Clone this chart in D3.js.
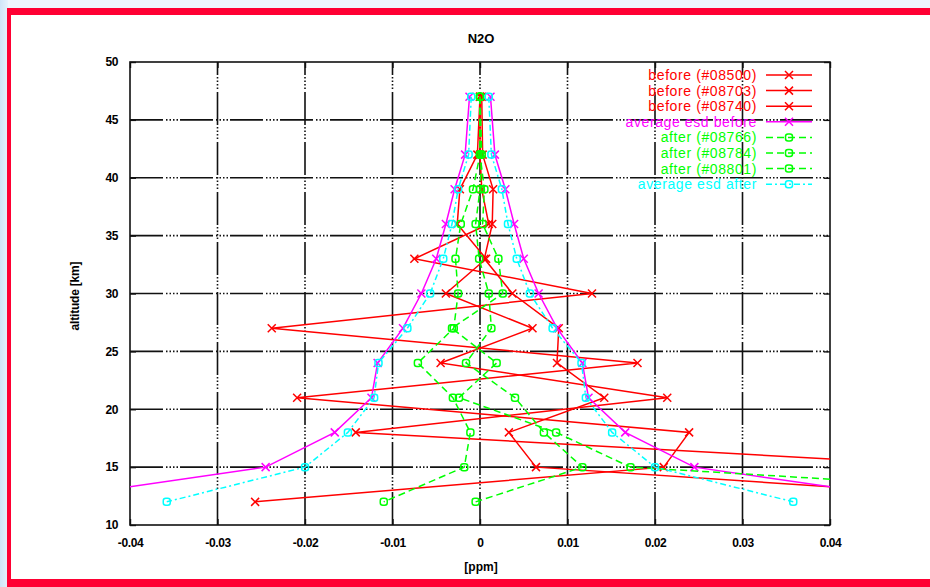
<!DOCTYPE html>
<html>
<head>
<meta charset="utf-8">
<script src="https://cdn.jsdelivr.net/npm/d3@7/dist/d3.min.js"></script>
<style>
  html, body { margin: 0; padding: 0; background: #eef6fd; }
  svg { display: block; }
  text { font-family: "Liberation Sans", Arial, sans-serif; }
</style>
</head>
<body>
<svg id="chart" width="930" height="587"></svg>
<script>
// altitude levels shared by every profile (km)
var altitudes = [47, 42, 39, 36, 33, 30, 27, 24, 21, 18, 15, 12];

// "before" profiles (ppm), null where no retrieval
var before08500 = [0.0000, 0.0000, 0.0002, 0.0010, -0.0075, 0.0128, -0.0238, 0.0180, -0.0209, 0.0239, 0.0210, -0.0257];
var before08703 = [0.0000, -0.0003, -0.0023, -0.0026, 0.0007, -0.0039, 0.0060, -0.0045, 0.0214, -0.0142, 0.0565, null];
var before08740 = [0.0002, 0.0003, 0.0015, 0.0014, 0.0005, 0.0037, 0.0090, 0.0088, 0.0142, 0.0033, 0.0064, 0.0660];
var esdBefore   = [0.0012, 0.0017, 0.0029, 0.0039, 0.0050, 0.0067, 0.0088, 0.0117, 0.0124, 0.0166, 0.0245, 0.0520];

// "after" profiles (ppm)
var after08766 = [0.0000, 0.0000, -0.0008, -0.0022, -0.0028, -0.0025, -0.0030, -0.0071, -0.0031, -0.0011, -0.0018, -0.0110];
var after08784 = [0.0000, 0.0002, 0.0000, -0.0005, -0.0001, 0.0010, 0.0013, -0.0016, 0.0040, 0.0073, 0.0117, -0.0005];
var after08801 = [0.0000, 0.0000, 0.0005, 0.0003, 0.0021, 0.0026, -0.0032, 0.0019, -0.0024, 0.0087, 0.0172, 0.0830];
var esdAfter   = [0.0010, 0.0013, 0.0025, 0.0032, 0.0042, 0.0057, 0.0083, 0.0116, 0.0121, 0.0151, 0.0200, 0.0358];

var xTicks = [-0.04, -0.03, -0.02, -0.01, 0, 0.01, 0.02, 0.03, 0.04];
var xTickLabels = ["-0.04", "-0.03", "-0.02", "-0.01", "0", "0.01", "0.02", "0.03", "0.04"];
var yTicks = [10, 15, 20, 25, 30, 35, 40, 45, 50];

var RED = "#ff0000", MAGENTA = "#ff00ff", GREEN = "#00ff00", CYAN = "#00ffff";

var series = [
    {name: "before (#08500)", values: before08500, color: RED, dash: null, mark: "x"},
    {name: "before (#08703)", values: before08703, color: RED, dash: null, mark: "x"},
    {name: "before (#08740)", values: before08740, color: RED, dash: null, mark: "x"},
    {name: "average esd before", values: esdBefore, color: MAGENTA, dash: null, mark: "x", mirror: true},
    {name: "after (#08766)", values: after08766, color: GREEN, dash: "7,4", mark: "o"},
    {name: "after (#08784)", values: after08784, color: GREEN, dash: "7,4", mark: "o"},
    {name: "after (#08801)", values: after08801, color: GREEN, dash: "7,4", mark: "o"},
    {name: "average esd after", values: esdAfter, color: CYAN, dash: "6,3,2,3", mark: "o", mirror: true}
];

var svg = d3.select("#chart");

// page background + red frame
var defs = svg.append("defs");
var grad = defs.append("linearGradient").attr("id", "leftfade")
    .attr("x1", 0).attr("x2", 1).attr("y1", 0).attr("y2", 0);
grad.append("stop").attr("offset", "0%").attr("stop-color", "#cfe5f8");
grad.append("stop").attr("offset", "100%").attr("stop-color", "#e6f2fc");
svg.append("rect").attr("x", 0).attr("y", 0).attr("width", 930).attr("height", 587).attr("fill", "#eef6fd");
svg.append("rect").attr("x", 0).attr("y", 0).attr("width", 8).attr("height", 587).attr("fill", "url(#leftfade)");
svg.append("rect").attr("x", 7).attr("y", 8).attr("width", 940).attr("height", 579).attr("fill", "#ff0033");
svg.append("rect").attr("x", 11).attr("y", 15).attr("width", 930).attr("height", 564).attr("fill", "#ffffff");

var plotLeft = 130, plotRight = 830, plotTop = 62, plotBottom = 525;

var x = d3.scaleLinear().domain([-0.04, 0.04]).range([plotLeft, plotRight]);
var y = d3.scaleLinear().domain([10, 50]).range([plotBottom, plotTop]);

// grid (gnuplot style: solid black with dotted stretches)
var grid = svg.append("g").attr("class", "grid")
    .attr("stroke", "#111").attr("stroke-width", 1.6)
    .attr("stroke-dasharray", "33,3,1.5,2,1.5,2,1.5,2,1.5,2");
yTicks.slice(1, -1).forEach(function (t) {
    grid.append("line").attr("x1", plotLeft).attr("x2", plotRight).attr("y1", y(t)).attr("y2", y(t));
});
xTicks.slice(1, -1).forEach(function (t) {
    grid.append("line").attr("x1", x(t)).attr("x2", x(t)).attr("y1", plotBottom).attr("y2", plotTop);
});

// axes with ticks drawn inwards, mirrored
var xAxis = d3.axisBottom(x).tickValues(xTicks).tickSize(-6).tickPadding(13)
    .tickFormat(function (d, i) { return xTickLabels[i]; });
var yAxis = d3.axisLeft(y).tickValues(yTicks).tickSize(-6).tickPadding(12);

var gx = svg.append("g").attr("transform", "translate(0," + plotBottom + ")").call(xAxis);
var gy = svg.append("g").attr("transform", "translate(" + plotLeft + ",0)").call(yAxis);
svg.append("g").attr("transform", "translate(0," + plotTop + ")")
    .call(d3.axisTop(x).tickValues(xTicks).tickSize(-6).tickFormat(""));
svg.append("g").attr("transform", "translate(" + plotRight + ",0)")
    .call(d3.axisRight(y).tickValues(yTicks).tickSize(-6).tickFormat(""));
svg.selectAll(".domain").remove();
svg.selectAll(".tick line").attr("stroke", "#111").attr("stroke-width", 1.4);
[gx, gy].forEach(function (g) {
    g.selectAll("text").attr("fill", "#000").style("font-size", "12px")
        .style("font-weight", "bold").style("letter-spacing", "-0.4px");
});

svg.append("rect").attr("x", plotLeft).attr("y", plotTop)
    .attr("width", plotRight - plotLeft).attr("height", plotBottom - plotTop)
    .attr("fill", "none").attr("stroke", "#111").attr("stroke-width", 1.6);

// titles
svg.append("text").attr("x", 481).attr("y", 43).attr("text-anchor", "middle")
    .style("font-size", "13px").style("font-weight", "bold").text("N2O");
svg.append("text").attr("x", 481).attr("y", 571).attr("text-anchor", "middle")
    .style("font-size", "12px").style("font-weight", "bold").text("[ppm]");
svg.append("text").attr("transform", "translate(79,296) rotate(-90)").attr("text-anchor", "middle")
    .style("font-size", "12px").style("font-weight", "bold").style("letter-spacing", "-0.2px").text("altitude [km]");

// plot
defs.append("clipPath").attr("id", "plotclip").append("rect")
    .attr("x", plotLeft).attr("y", plotTop).attr("width", plotRight - plotLeft).attr("height", plotBottom - plotTop);
var plot = svg.append("g").attr("clip-path", "url(#plotclip)");

function drawMark(g, mark, cx, cy, color) {
    if (mark === "x") {
        g.append("path").attr("d", "M" + (cx - 4) + "," + (cy - 4) + "L" + (cx + 4) + "," + (cy + 4) +
            "M" + (cx - 4) + "," + (cy + 4) + "L" + (cx + 4) + "," + (cy - 4))
            .attr("stroke", color).attr("stroke-width", 1.5).attr("fill", "none");
    } else {
        g.append("rect").attr("x", cx - 3.5).attr("y", cy - 3.5).attr("width", 7).attr("height", 7)
            .attr("rx", 2.5).attr("fill", "none").attr("stroke", color).attr("stroke-width", 1.5);
    }
}

function profile(values, sign) {
    return altitudes.map(function (a, i) {
        return values[i] === null ? null : {alt: a, v: sign * values[i]};
    }).filter(function (d) { return d !== null; });
}

var line = d3.line().x(function (d) { return x(d.v); }).y(function (d) { return y(d.alt); });

series.forEach(function (s) {
    var signs = s.mirror ? [-1, 1] : [1];
    signs.forEach(function (sg) {
        var pts = profile(s.values, sg);
        var g = plot.append("g");
        g.append("path").datum(pts).attr("d", line).attr("fill", "none")
            .attr("stroke", s.color).attr("stroke-width", 1.5)
            .attr("stroke-dasharray", s.dash);
        pts.forEach(function (d) { drawMark(g, s.mark, x(d.v), y(d.alt), s.color); });
    });
});

// legend
var legend = svg.append("g").attr("class", "legend");
series.forEach(function (s, i) {
    var ly = 75 + i * 15.6;
    legend.append("text").attr("x", 757).attr("y", ly + 5).attr("text-anchor", "end")
        .attr("fill", s.color).style("font-size", "14px").style("letter-spacing", "0.6px").text(s.name);
    legend.append("line").attr("x1", 766).attr("x2", 812).attr("y1", ly).attr("y2", ly)
        .attr("stroke", s.color).attr("stroke-width", 1.5).attr("stroke-dasharray", s.dash);
    drawMark(legend, s.mark, 789, ly, s.color);
});
</script>
</body>
</html>
